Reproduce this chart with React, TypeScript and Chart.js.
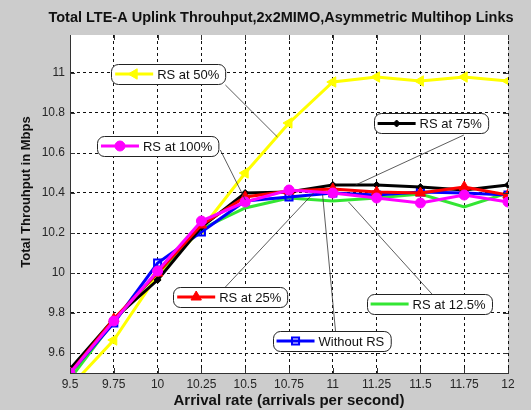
import React, { useEffect, useRef } from 'react';
import { Chart, registerables } from 'chart.js';
import { drawPoint } from 'chart.js/helpers';

Chart.register(...registerables);

const FONT = '"Liberation Sans", Arial, sans-serif';

// ---- data ----
const arrivalRates = [9.5, 9.75, 10, 10.25, 10.5, 10.75, 11, 11.25, 11.5, 11.75, 12];
const xTickLabels = ['9.5', '9.75', '10', '10.25', '10.5', '10.75', '11', '11.25', '11.5', '11.75', '12'];
const yTickValues = [9.6, 9.8, 10, 10.2, 10.4, 10.6, 10.8, 11];
const yTickLabels = ['9.6', '9.8', '10', '10.2', '10.4', '10.6', '10.8', '11'];

const withoutRS = [9.5, 9.75, 10.05, 10.205, 10.36, 10.38, 10.4, 10.39, 10.405, 10.4, 10.39];
const rsAt12_5 = [9.47, 9.76, 10.0, 10.22, 10.325, 10.375, 10.36, 10.375, 10.395, 10.33, 10.4];
const rsAt25 = [9.5, 9.77, 10.0, 10.24, 10.38, 10.41, 10.42, 10.405, 10.4, 10.43, 10.39];
const rsAt50 = [9.43, 9.665, 9.99, 10.22, 10.5, 10.75, 10.955, 10.98, 10.96, 10.98, 10.96];
const rsAt75 = [9.52, 9.77, 9.965, 10.23, 10.4, 10.405, 10.44, 10.44, 10.43, 10.415, 10.44];
const rsAt100 = [9.5, 9.76, 10.01, 10.26, 10.355, 10.415, 10.4, 10.375, 10.35, 10.39, 10.355];

const titleText = 'Total LTE-A Uplink Throuhput,2x2MIMO,Asymmetric Multihop Links';
const xTitle = 'Arrival rate (arrivals per second)';
const yTitle = 'Total Throuhput in Mbps';

// annotation call-outs (box anchor and leader line in data coordinates)
const callouts = [
  { label: 'RS at 50%', ds: 3, boxX: 9.735, boxY: 10.995, fromX: 10.387, fromY: 10.94, toX: 10.684, toY: 10.68 },
  { label: 'RS at 100%', ds: 5, boxX: 9.654, boxY: 10.635, fromX: 10.358, fromY: 10.615, toX: 10.501, toY: 10.365 },
  { label: 'RS at 75%', ds: 4, boxX: 11.233, boxY: 10.7475, fromX: 11.748, fromY: 10.69, toX: 11.13, toY: 10.44 },
  { label: 'RS at 25%', ds: 2, boxX: 10.089, boxY: 9.88, fromX: 10.387, fromY: 9.93, toX: 10.89, toY: 10.4 },
  { label: 'RS at 12.5%', ds: 1, boxX: 11.193, boxY: 9.845, fromX: 11.571, fromY: 9.89, toX: 11.09, toY: 10.355 },
  { label: 'Without RS', ds: 0, boxX: 10.656, boxY: 9.66, fromX: 11.016, fromY: 9.705, toX: 10.942, toY: 10.39 },
];

function toXY(vals: number[]) {
  return vals.map((v, i) => ({ x: arrivalRates[i], y: v }));
}

function roundRectPath(ctx: CanvasRenderingContext2D, x: number, y: number, w: number, h: number, r: number) {
  ctx.beginPath();
  ctx.moveTo(x + r, y);
  ctx.lineTo(x + w - r, y);
  ctx.arcTo(x + w, y, x + w, y + r, r);
  ctx.lineTo(x + w, y + h - r);
  ctx.arcTo(x + w, y + h, x + w - r, y + h, r);
  ctx.lineTo(x + r, y + h);
  ctx.arcTo(x, y + h, x, y + h - r, r);
  ctx.lineTo(x, y + r);
  ctx.arcTo(x, y, x + r, y, r);
  ctx.closePath();
}

const decorPlugin = {
  id: 'decor',
  beforeDraw(chart: any) {
    const { ctx, chartArea: a } = chart;
    ctx.save();
    ctx.fillStyle = '#ffffff';
    ctx.fillRect(a.left, a.top, a.right - a.left, a.bottom - a.top);
    ctx.restore();
  },
  afterDatasetsDraw(chart: any) {
    const { ctx, chartArea: a } = chart;
    const xs = chart.scales.x;
    const ys = chart.scales.y;
    ctx.save();
    // inward ticks
    ctx.strokeStyle = '#333';
    ctx.lineWidth = 1;
    ctx.beginPath();
    for (const v of arrivalRates) {
      const px = Math.round(xs.getPixelForValue(v)) + 0.5;
      ctx.moveTo(px, a.bottom);
      ctx.lineTo(px, a.bottom - 5);
      ctx.moveTo(px, a.top);
      ctx.lineTo(px, a.top + 5);
    }
    for (const v of yTickValues) {
      const py = Math.round(ys.getPixelForValue(v)) + 0.5;
      ctx.moveTo(a.left, py);
      ctx.lineTo(a.left + 5, py);
      ctx.moveTo(a.right, py);
      ctx.lineTo(a.right - 5, py);
    }
    ctx.stroke();

    // callouts
    ctx.font = `13px ${FONT}`;
    for (const c of callouts) {
      const ds: any = chart.data.datasets[c.ds];
      const bx = xs.getPixelForValue(c.boxX);
      const cy = ys.getPixelForValue(c.boxY);
      const tw = ctx.measureText(c.label).width;
      const w = 4 + 38 + 4 + tw + 6;
      const h = 20;
      ctx.strokeStyle = '#333';
      ctx.lineWidth = 0.8;
      ctx.beginPath();
      ctx.moveTo(xs.getPixelForValue(c.fromX), ys.getPixelForValue(c.fromY));
      ctx.lineTo(xs.getPixelForValue(c.toX), ys.getPixelForValue(c.toY));
      ctx.stroke();

      roundRectPath(ctx, Math.round(bx) + 0.5, Math.round(cy - h / 2) + 0.5, w, h, 7);
      ctx.fillStyle = '#ffffff';
      ctx.fill();
      ctx.strokeStyle = '#222';
      ctx.lineWidth = 1;
      ctx.stroke();

      ctx.strokeStyle = ds.borderColor;
      ctx.lineWidth = 3;
      ctx.beginPath();
      ctx.moveTo(bx + 4, cy);
      ctx.lineTo(bx + 42, cy);
      ctx.stroke();
      if (ds.pointRadius > 0) {
        ctx.fillStyle = ds.pointBackgroundColor;
        ctx.strokeStyle = ds.pointBorderColor;
        ctx.lineWidth = ds.pointBorderWidth;
        drawPoint(ctx, {
          pointStyle: ds.pointStyle,
          rotation: ds.pointRotation || 0,
          radius: ds.pointRadius,
          borderWidth: ds.pointBorderWidth,
        } as any, bx + 23, cy);
      }
      ctx.fillStyle = '#111';
      ctx.textBaseline = 'middle';
      ctx.textAlign = 'left';
      ctx.fillText(c.label, bx + 46, cy + 1);
    }
    ctx.restore();
  },
  afterDraw(chart: any) {
    const { ctx } = chart;
    ctx.save();
    ctx.font = `bold 14.5px ${FONT}`;
    ctx.fillStyle = '#111';
    ctx.textAlign = 'center';
    ctx.textBaseline = 'middle';
    ctx.fillText(titleText, 281, 18);
    // y-axis title
    ctx.translate(26, 192);
    ctx.rotate(-Math.PI / 2);
    ctx.font = `bold 13px ${FONT}`;
    ctx.fillText(yTitle, 0, 0);
    ctx.restore();
  },
};

export default function App() {
  const ref = useRef<HTMLCanvasElement>(null);
  useEffect(() => {
    const canvas = ref.current!;
    const seriesDefs = [
      { label: 'Without RS', data: withoutRS, color: '#0000ff', style: 'rect', radius: 5, bg: 'rgba(0,0,0,0)', bw: 2, rot: 0, order: 3 },
      { label: 'RS at 12.5%', data: rsAt12_5, color: '#33e633', style: 'circle', radius: 0, bg: '#33e633', bw: 0, rot: 0, order: 4 },
      { label: 'RS at 25%', data: rsAt25, color: '#ff0000', style: 'triangle', radius: 6, bg: '#ff0000', bw: 1, rot: 0, order: 1 },
      { label: 'RS at 50%', data: rsAt50, color: '#ffff00', style: 'triangle', radius: 6, bg: '#ffff00', bw: 1, rot: 270, order: 5 },
      { label: 'RS at 75%', data: rsAt75, color: '#000000', style: 'rectRot', radius: 3.5, bg: '#000000', bw: 1, rot: 0, order: 2 },
      { label: 'RS at 100%', data: rsAt100, color: '#ff00ff', style: 'circle', radius: 5, bg: '#ff00ff', bw: 1, rot: 0, order: 0 },
    ];
    const datasets = seriesDefs.map((s) => ({
      label: s.label,
      data: toXY(s.data),
      borderColor: s.color,
      backgroundColor: s.color,
      borderWidth: 3,
      pointStyle: s.style,
      pointRadius: s.radius,
      pointRotation: s.rot,
      pointBackgroundColor: s.bg,
      pointBorderColor: s.color,
      pointBorderWidth: s.bw,
      tension: 0,
      order: s.order,
    }));
    const chart = new Chart(canvas, {
      type: 'line',
      data: { datasets } as any,
      options: {
        animation: false,
        responsive: false,
        devicePixelRatio: 1,
        layout: { padding: { top: 35, right: 23, left: 0, bottom: 0 } },
        plugins: { legend: { display: false }, tooltip: { enabled: false }, title: { display: false } },
        scales: {
          x: {
            type: 'linear',
            min: 9.5,
            max: 12,
            afterBuildTicks: (s: any) => { s.ticks = arrivalRates.map((v) => ({ value: v })); },
            afterFit: (s: any) => { s.height = 37; },
            ticks: {
              autoSkip: false,
              maxRotation: 0,
              padding: 4,
              color: '#262626',
              font: { family: FONT, size: 12 },
              callback: (_v: any, i: number) => xTickLabels[i],
            },
            grid: { color: '#111', lineWidth: 1, drawTicks: false },
            border: { display: true, color: '#333', width: 1, dash: [3, 3] },
            title: {
              display: true,
              text: xTitle,
              color: '#111',
              font: { family: FONT, size: 15, weight: 'bold' },
              padding: { top: 0, bottom: 0 },
            },
          },
          y: {
            type: 'linear',
            min: 9.5,
            max: 11.19,
            afterBuildTicks: (s: any) => { s.ticks = yTickValues.map((v) => ({ value: v })); },
            afterFit: (s: any) => { s.width = 70; },
            ticks: {
              padding: 5,
              color: '#262626',
              font: { family: FONT, size: 12 },
              callback: (_v: any, i: number) => yTickLabels[i],
            },
            grid: { color: '#111', lineWidth: 1, drawTicks: false },
            border: { display: true, color: '#333', width: 1, dash: [3, 3] },
            title: { display: false },
          },
        },
      } as any,
      plugins: [decorPlugin as any],
    });
    return () => chart.destroy();
  }, []);
  return (
    <div style={{ position: 'absolute', left: 0, top: 0, width: 531, height: 410, background: '#cccccc' }}>
      <canvas ref={ref} width={531} height={410} style={{ display: 'block', width: 531, height: 410 }} />
    </div>
  );
}
